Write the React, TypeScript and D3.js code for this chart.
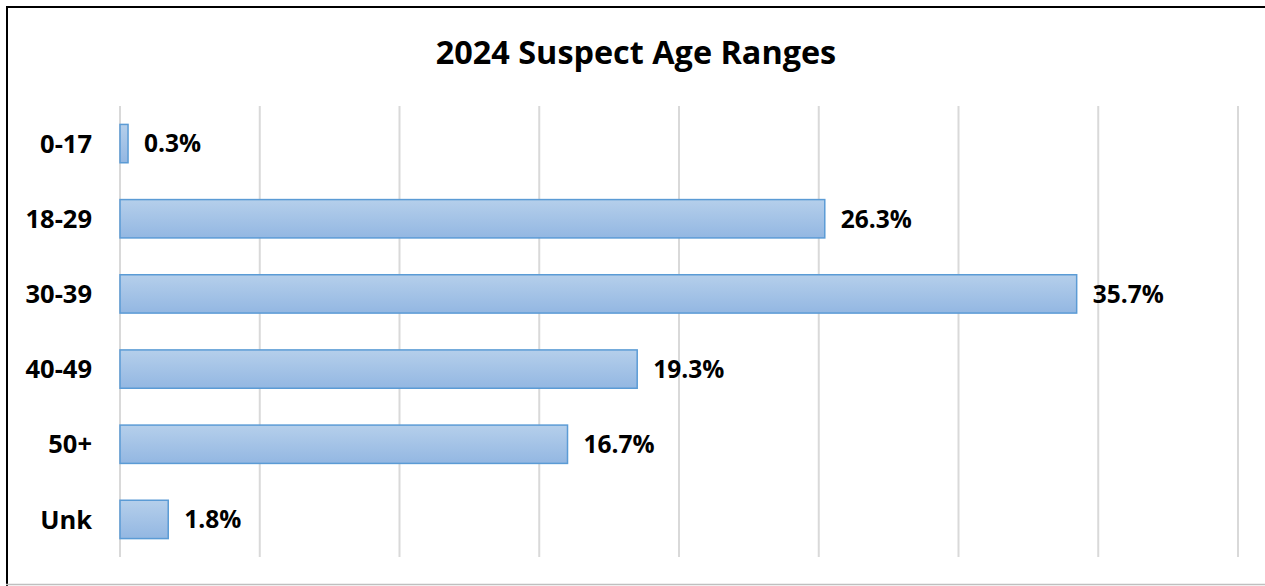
import React, { useEffect, useRef } from 'react';
import * as d3 from 'd3';

const categories = ['0-17', '18-29', '30-39', '40-49', '50+', 'Unk'];
const percents = [0.3, 26.3, 35.7, 19.3, 16.7, 1.8];
const axisMax = 41.72; // axis end
const gridCount = 8;

const W = 1265;
const H = 586;
const FONT = '"Open Sans", "Noto Sans", sans-serif';

const App = () => {
  const svgRef = useRef<SVGSVGElement>(null);

  useEffect(() => {
    const svg = d3.select(svgRef.current);
    svg.selectAll('*').remove();

    const margin = { top: 106, right: 27, bottom: 29, left: 120 };

    const x = d3.scaleLinear()
      .domain([0, axisMax])
      .range([margin.left, W - margin.right]);

    const y = d3.scaleBand()
      .domain(categories)
      .range([margin.top, H - margin.bottom])
      .paddingInner(0.49)
      .paddingOuter(0.245);

    const defs = svg.append('defs');
    const grad = defs.append('linearGradient')
      .attr('id', 'barFill')
      .attr('x1', 0).attr('y1', 0).attr('x2', 0).attr('y2', 1);
    grad.append('stop').attr('offset', '0%').attr('stop-color', '#b5cfeb');
    grad.append('stop').attr('offset', '100%').attr('stop-color', '#93b7e2');

    // frame
    svg.append('rect').attr('width', W).attr('height', H).attr('fill', '#fff');
    svg.append('line')
      .attr('x1', 6).attr('x2', W).attr('y1', 7).attr('y2', 7)
      .attr('stroke', '#000').attr('stroke-width', 2);
    svg.append('line')
      .attr('x1', 7).attr('x2', 7).attr('y1', 6).attr('y2', H)
      .attr('stroke', '#000').attr('stroke-width', 2);
    svg.append('line')
      .attr('x1', 6).attr('x2', W).attr('y1', 584.5).attr('y2', 584.5)
      .attr('stroke', '#bfbfbf').attr('stroke-width', 1.5);

    // title
    svg.append('text')
      .attr('x', 636).attr('y', 64)
      .attr('text-anchor', 'middle')
      .attr('font-family', FONT)
      .attr('font-weight', 700)
      .attr('font-size', 32.4)
      .attr('fill', '#000')
      .text('2024 Suspect Age Ranges');

    // gridlines
    const gridVals = d3.range(gridCount + 1).map(i => (axisMax / gridCount) * i);
    svg.append('g')
      .selectAll('line')
      .data(gridVals)
      .join('line')
      .attr('x1', d => x(d)).attr('x2', d => x(d))
      .attr('y1', margin.top).attr('y2', H - margin.bottom)
      .attr('stroke', '#d9d9d9')
      .attr('stroke-width', 2);

    const rows = categories.map((c, i) => ({ c, v: percents[i] }));

    // bars
    svg.append('g')
      .selectAll('rect')
      .data(rows)
      .join('rect')
      .attr('x', x(0))
      .attr('y', d => y(d.c)!)
      .attr('width', d => x(d.v) - x(0))
      .attr('height', y.bandwidth())
      .attr('fill', 'url(#barFill)')
      .attr('stroke', '#5b9bd5')
      .attr('stroke-width', 1.5);

    // value labels
    svg.append('g')
      .selectAll('text')
      .data(rows)
      .join('text')
      .attr('x', d => x(d.v) + 16)
      .attr('y', d => y(d.c)! + y.bandwidth() / 2)
      .attr('dy', '0.36em')
      .attr('font-family', FONT)
      .attr('font-weight', 700)
      .attr('font-size', 24.5)
      .attr('fill', '#000')
      .text(d => `${d.v.toFixed(1)}%`);

    // category labels
    svg.append('g')
      .selectAll('text')
      .data(rows)
      .join('text')
      .attr('x', 92)
      .attr('y', d => y(d.c)! + y.bandwidth() / 2)
      .attr('dy', '0.36em')
      .attr('text-anchor', 'end')
      .attr('font-family', FONT)
      .attr('font-weight', 700)
      .attr('font-size', 25.5)
      .attr('fill', '#000')
      .text(d => d.c);
  }, []);

  return (
    <svg
      ref={svgRef}
      width={W}
      height={H}
      style={{ position: 'absolute', left: 0, top: 0 }}
    />
  );
};

export default App;
